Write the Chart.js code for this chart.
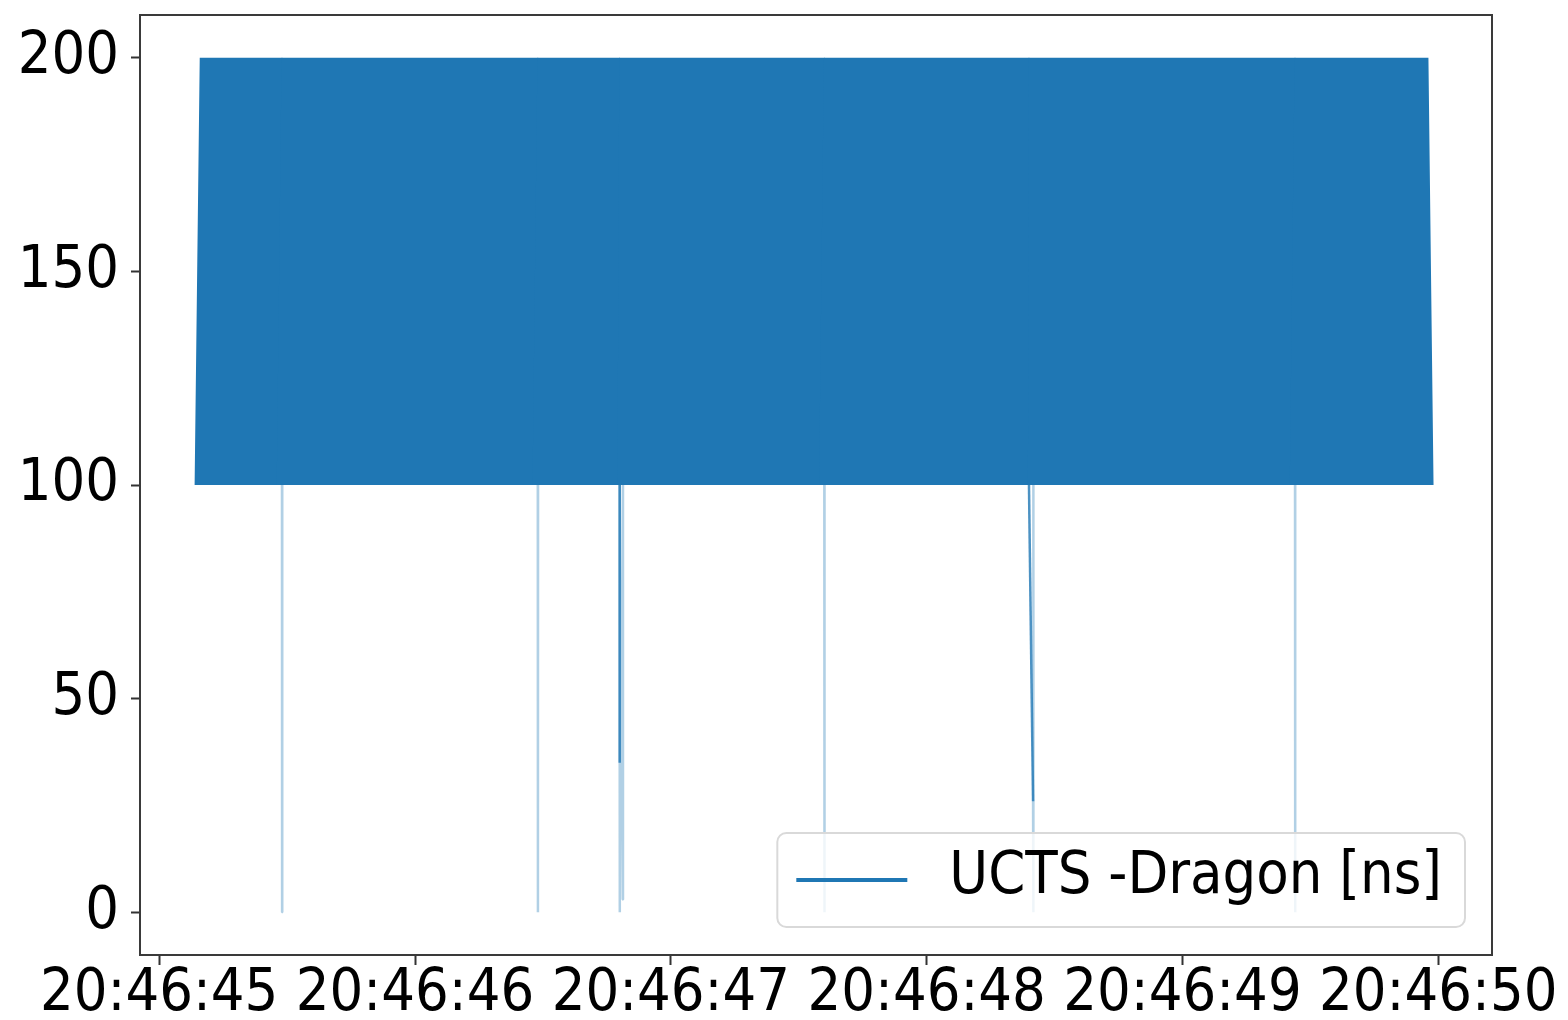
<!DOCTYPE html>
<html>
<head>
<meta charset="utf-8">
<script src="https://cdn.jsdelivr.net/npm/chart.js@4.4.1/dist/chart.umd.min.js"></script>
<style>
  body { margin: 0; background: #fff; }
</style>
</head>
<body>
<canvas id="tsChart" width="1568" height="1020"></canvas>
<script>
  // sample times, seconds after 20:46:00
  let bandTimes = [
    45.16, 45.18, 45.20, 45.22, 45.24, 45.26, 45.28, 45.30, 45.32, 45.34,
    45.36, 45.38, 45.40, 45.42, 45.44, 45.46, 45.48, 45.50, 45.52, 45.54,
    45.56, 45.58, 45.60, 45.62, 45.64, 45.66, 45.68, 45.70, 45.72, 45.74,
    45.76, 45.78, 45.80, 45.82, 45.84, 45.86, 45.88, 45.90, 45.92, 45.94,
    45.96, 45.98, 46.00, 46.02, 46.04, 46.06, 46.08, 46.10, 46.12, 46.14,
    46.16, 46.18, 46.20, 46.22, 46.24, 46.26, 46.28, 46.30, 46.32, 46.34,
    46.36, 46.38, 46.40, 46.42, 46.44, 46.46, 46.48, 46.50, 46.52, 46.54,
    46.56, 46.58, 46.60, 46.62, 46.64, 46.66, 46.68, 46.70, 46.72, 46.74,
    46.76, 46.78, 46.80, 46.82, 46.84, 46.86, 46.88, 46.90, 46.92, 46.94,
    46.96, 46.98, 47.00, 47.02, 47.04, 47.06, 47.08, 47.10, 47.12, 47.14,
    47.16, 47.18, 47.20, 47.22, 47.24, 47.26, 47.28, 47.30, 47.32, 47.34,
    47.36, 47.38, 47.40, 47.42, 47.44, 47.46, 47.48, 47.50, 47.52, 47.54,
    47.56, 47.58, 47.60, 47.62, 47.64, 47.66, 47.68, 47.70, 47.72, 47.74,
    47.76, 47.78, 47.80, 47.82, 47.84, 47.86, 47.88, 47.90, 47.92, 47.94,
    47.96, 47.98, 48.00, 48.02, 48.04, 48.06, 48.08, 48.10, 48.12, 48.14,
    48.16, 48.18, 48.20, 48.22, 48.24, 48.26, 48.28, 48.30, 48.32, 48.34,
    48.36, 48.38, 48.40, 48.42, 48.44, 48.46, 48.48, 48.50, 48.52, 48.54,
    48.56, 48.58, 48.60, 48.62, 48.64, 48.66, 48.68, 48.70, 48.72, 48.74,
    48.76, 48.78, 48.80, 48.82, 48.84, 48.86, 48.88, 48.90, 48.92, 48.94,
    48.96, 48.98, 49.00, 49.02, 49.04, 49.06, 49.08, 49.10, 49.12, 49.14,
    49.16, 49.18, 49.20, 49.22, 49.24, 49.26, 49.28, 49.30, 49.32, 49.34,
    49.36, 49.38, 49.40, 49.42, 49.44, 49.46, 49.48, 49.50, 49.52, 49.54,
    49.56, 49.58, 49.60, 49.62, 49.64, 49.66, 49.68, 49.70, 49.72, 49.74,
    49.76, 49.78, 49.80, 49.82, 49.84, 49.86, 49.88, 49.90, 49.92, 49.94,
    49.96
  ];
  // UCTS - Dragon difference [ns], swinging across the 100..200 band
  let bandValues = [
    100, 200, 100, 200, 100, 200, 100, 200, 100, 200,
    100, 200, 100, 200, 100, 200, 100, 200, 100, 200,
    100, 200, 100, 200, 100, 200, 100, 200, 100, 200,
    100, 200, 100, 200, 100, 200, 100, 200, 100, 200,
    100, 200, 100, 200, 100, 200, 100, 200, 100, 200,
    100, 200, 100, 200, 100, 200, 100, 200, 100, 200,
    100, 200, 100, 200, 100, 200, 100, 200, 100, 200,
    100, 200, 100, 200, 100, 200, 100, 200, 100, 200,
    100, 200, 100, 200, 100, 200, 100, 200, 100, 200,
    100, 200, 100, 200, 100, 200, 100, 200, 100, 200,
    100, 200, 100, 200, 100, 200, 100, 200, 100, 200,
    100, 200, 100, 200, 100, 200, 100, 200, 100, 200,
    100, 200, 100, 200, 100, 200, 100, 200, 100, 200,
    100, 200, 100, 200, 100, 200, 100, 200, 100, 200,
    100, 200, 100, 200, 100, 200, 100, 200, 100, 200,
    100, 200, 100, 200, 100, 200, 100, 200, 100, 200,
    100, 200, 100, 200, 100, 200, 100, 200, 100, 200,
    100, 200, 100, 200, 100, 200, 100, 200, 100, 200,
    100, 200, 100, 200, 100, 200, 100, 200, 100, 200,
    100, 200, 100, 200, 100, 200, 100, 200, 100, 200,
    100, 200, 100, 200, 100, 200, 100, 200, 100, 200,
    100, 200, 100, 200, 100, 200, 100, 200, 100, 200,
    100, 200, 100, 200, 100, 200, 100, 200, 100, 200,
    100, 200, 100, 200, 100, 200, 100, 200, 100, 200,
    100
  ];
  // the few events where the difference drops towards 0, and the sample after each
  let dipTimes = [
    45.4805, 45.481,
    46.4805, 46.481,
    46.8002, 46.8004, 46.8006, 46.812, 46.813,
    47.6005, 47.601,
    48.416, 48.417, 48.4175,
    49.4405, 49.441
  ];
  let dipValues = [
    0, 100,
    0, 100,
    35, 0, 100, 3, 100,
    0, 100,
    26, 0, 100,
    0, 100
  ];

  let xTickSeconds = [45, 46, 47, 48, 49, 50];
  let yTickValues = [0, 50, 100, 150, 200];
  let seriesLabel = 'UCTS -Dragon [ns]';

  let fontFamily = '"DejaVu Sans Condensed", "DejaVu Sans", sans-serif';
  let fontSize = 59;
  let blue = '#1f77b4';

  let points = bandTimes.map((t, i) => ({ x: t, y: bandValues[i] }))
    .concat(dipTimes.map((t, i) => ({ x: t, y: dipValues[i] })))
    .sort((a, b) => a.x - b.x);

  function segLow(ctx) {
    return Math.min(ctx.p0.parsed.y, ctx.p1.parsed.y);
  }

  /**************Frame around the plot**************/
  let framePlugin = {
    id: 'frame',
    afterDatasetsDraw(chart) {
      let a = chart.chartArea, c = chart.ctx;
      c.save();
      c.strokeStyle = '#3a3a3a';
      c.lineWidth = 2;
      c.strokeRect(a.left, a.top, a.right - a.left, a.bottom - a.top);
      c.restore();
    }
  };

  /**************Legend box, lower right**************/
  let legendBoxPlugin = {
    id: 'legendBox',
    afterDraw(chart) {
      let a = chart.chartArea, c = chart.ctx;
      let ds = chart.data.datasets[0];
      c.save();
      c.font = fontSize + 'px ' + fontFamily;
      let textW = c.measureText(ds.label).width;
      let w = textW + 195, h = 94;
      let x = a.right - 27 - w, y = a.bottom - 28 - h;
      c.beginPath();
      c.roundRect(x, y, w, h, 9);
      c.fillStyle = 'rgba(255,255,255,0.8)';
      c.fill();
      c.strokeStyle = '#d9d9d9';
      c.lineWidth = 2;
      c.stroke();
      c.strokeStyle = ds.borderColor;
      c.lineWidth = 4;
      c.beginPath();
      c.moveTo(x + 19, y + h / 2);
      c.lineTo(x + 130, y + h / 2);
      c.stroke();
      c.fillStyle = '#000';
      c.textBaseline = 'middle';
      c.fillText(ds.label, x + 172, y + h / 2 - 2);
      c.restore();
    }
  };

  let ctx = document.getElementById('tsChart').getContext('2d');
  let tsChart = new Chart(ctx, {
    type: 'line',
    data: {
      datasets: [{
        label: seriesLabel,
        data: points,
        borderColor: blue,
        borderWidth: 11,
        borderJoinStyle: 'bevel',
        pointRadius: 0,
        fill: false,
        tension: 0,
        segment: {
          borderWidth: c => segLow(c) < 100 ? 2.5 : undefined,
          borderColor: c => {
            let lo = segLow(c);
            if (lo >= 100) return undefined;
            return lo < 15 ? 'rgba(31,119,180,0.35)' : 'rgba(31,119,180,0.8)';
          }
        }
      }]
    },
    options: {
      responsive: false,
      animation: false,
      devicePixelRatio: 1,
      layout: { padding: { top: 15, right: 76, left: 0, bottom: 0 } },
      plugins: { legend: { display: false }, tooltip: { enabled: false } },
      scales: {
        x: {
          type: 'linear',
          min: 44.925,
          max: 50.21,
          afterBuildTicks: s => { s.ticks = xTickSeconds.map(v => ({ value: v })); },
          afterFit: s => { s.height = 65; s.paddingLeft = 0; s.paddingRight = 0; },
          grid: { drawOnChartArea: false, tickLength: 10, tickWidth: 2, tickColor: '#333' },
          border: { display: false },
          ticks: {
            font: { family: fontFamily, size: fontSize, lineHeight: 1 },
            color: '#000',
            padding: 0,
            maxRotation: 0,
            autoSkip: false,
            callback: v => '20:46:' + v
          }
        },
        y: {
          min: -10,
          max: 210,
          afterBuildTicks: s => { s.ticks = yTickValues.map(v => ({ value: v })); },
          afterFit: s => { s.width = 140; s.paddingTop = 0; s.paddingBottom = 0; },
          grid: { drawOnChartArea: false, tickLength: 9, tickWidth: 2, tickColor: '#333' },
          border: { display: false },
          ticks: {
            font: { family: fontFamily, size: fontSize },
            color: '#000',
            padding: 12
          }
        }
      }
    },
    plugins: [framePlugin, legendBoxPlugin]
  });
</script>
</body>
</html>
